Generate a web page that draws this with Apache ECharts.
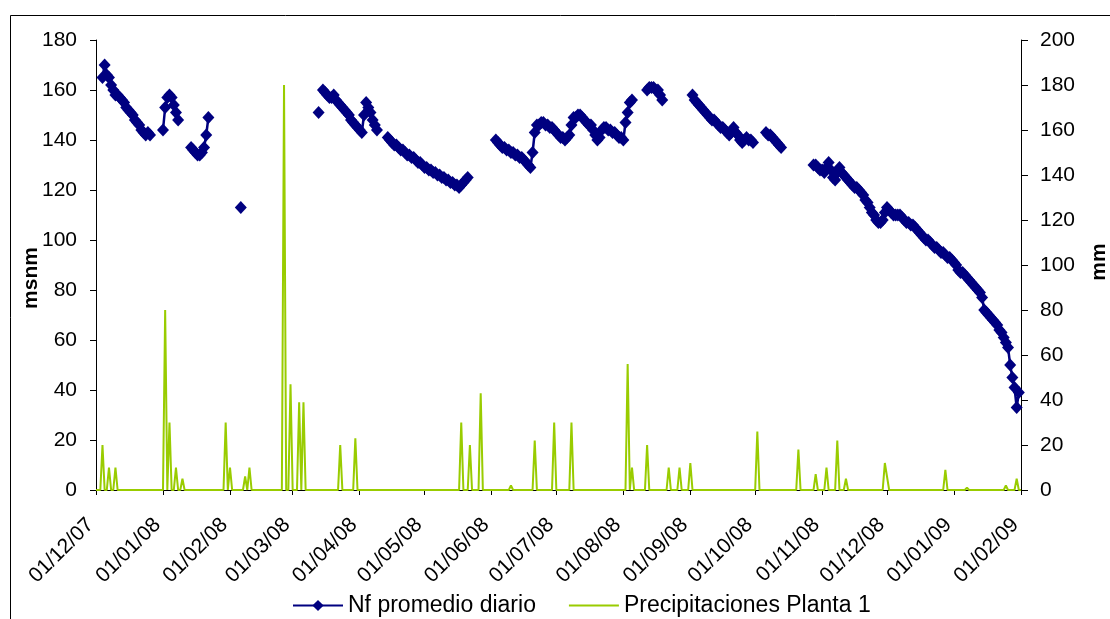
<!DOCTYPE html>
<html>
<head>
<meta charset="utf-8">
<script src="https://cdn.jsdelivr.net/npm/echarts@6/dist/echarts.min.js"></script>
<style>
  html, body { margin: 0; padding: 0; background: #ffffff; }
  #chart { width: 1110px; height: 619px; }
</style>
</head>
<body>
<div id="chart"></div>
<script>
// Month ticks along the date axis
const monthTicks = ['01/12/07', '01/01/08', '01/02/08', '01/03/08', '01/04/08', '01/05/08',
  '01/06/08', '01/07/08', '01/08/08', '01/09/08', '01/10/08', '01/11/08', '01/12/08',
  '01/01/09', '01/02/09'];

const leftTicks = [0, 20, 40, 60, 80, 100, 120, 140, 160, 180];
const rightTicks = [0, 20, 40, 60, 80, 100, 120, 140, 160, 180, 200];

// Nf promedio diario (msnm): daily readings, one array per uninterrupted run
const nfStarts = ['04/12/07', '01/01/08', '14/01/08', '06/02/08', '13/03/08', '15/03/08',
  '14/04/08', '03/06/08', '12/08/08', '02/09/08', '06/10/08', '28/10/08'];

const nfDic07 = [165, 170, 166, 165, 162, 160, 158, 158, 157, 156, 155, 153, 152, 151, 150,
  148, 147, 146, 144, 143, 142, 143, 142];
const nfEne08a = [144, 153, 157, 158, 157, 154, 151, 148];
const nfEne08b = [137, 136, 135, 134, 134, 135, 137, 142, 149];
const nfFeb08 = [113];
const nfMar08a = [151];
const nfMar08b = [160, 159, 158, 157, 157, 158, 156, 155, 154, 153, 152, 151, 150, 148, 147,
  146, 145, 144, 143, 150, 155, 153, 151, 148, 146, 144];
const nfAbr08 = [141, 140, 139, 138, 138, 137, 136, 136, 135, 134,
  134, 133, 133, 132, 131, 131, 130, 129, 129, 128,
  128, 127, 127, 126, 126, 125, 125, 124, 124, 123,
  123, 122, 122, 121, 122, 123, 124, 125];
const nfJun08 = [140, 139, 138, 137, 137, 136, 136, 135, 135, 134,
  134, 133, 133, 132, 131, 130, 129,
  135, 143, 146, 146, 147, 147, 146, 146, 145, 145, 144,
  143, 142, 141, 141, 140, 141, 142, 146, 149, 149, 150, 150, 149, 148, 147, 146, 146,
  144, 142, 140, 141, 144, 145, 145, 144, 144, 143, 143, 142, 141, 141, 140,
  147, 151, 155, 156];
const nfAgo08 = [160, 161, 161, 161, 160, 160, 158, 156];
const nfSep08 = [158, 156, 155, 154, 153, 152, 151, 150, 149, 148, 148, 147, 146, 145, 145,
  144, 143, 142, 143, 145, 143, 142, 140, 139, 140, 141, 140, 140, 139];
const nfOct08 = [143, 142, 142, 141, 140, 139, 138, 137];
const nfNov08 = [130, 130, 129, 128, 128, 127, 129, 131, 128, 125,
  124, 127, 129, 127, 126, 125, 124, 123, 122, 121,
  121, 120, 119, 118, 116, 115, 113, 111, 110, 108,
  107, 107, 108, 111, 113, 112, 111, 110, 110, 110,
  110, 109, 108, 107, 107, 106, 106, 105, 104, 103,
  102, 101, 100, 100, 99, 98, 97, 97, 96, 95,
  95, 94, 93, 93, 92, 91, 90, 88, 87, 87,
  86, 85, 84, 83, 82, 81, 80, 79, 77, 72,
  71, 70, 69, 68, 67, 66, 64, 63, 61, 59,
  57, 50, 45, 41, 33, 39];

const nfRuns = [nfDic07, nfEne08a, nfEne08b, nfFeb08, nfMar08a, nfMar08b,
  nfAbr08, nfJun08, nfAgo08, nfSep08, nfOct08, nfNov08];

// Precipitaciones Planta 1 (mm): rainy days only, every other day is 0
const rainDates = ['04/12/07', '07/12/07', '10/12/07', '02/01/08', '04/01/08', '07/01/08',
  '10/01/08', '30/01/08', '01/02/08', '08/02/08', '10/02/08', '26/02/08', '29/02/08',
  '04/03/08', '06/03/08', '23/03/08', '30/03/08', '18/05/08', '22/05/08', '27/05/08',
  '10/06/08', '21/06/08', '30/06/08', '08/07/08', '03/08/08', '05/08/08', '12/08/08',
  '22/08/08', '27/08/08', '01/09/08', '02/10/08', '21/10/08', '29/10/08', '03/11/08',
  '08/11/08', '12/11/08', '30/11/08', '01/12/08', '28/12/08', '07/01/09', '25/01/09',
  '30/01/09'];
const rainMm = [20, 10, 10, 80, 30, 10,
  5, 30, 10, 6, 10, 180, 47,
  39, 39, 20, 23, 30, 20, 43,
  2, 22, 30, 30, 56, 10, 20,
  10, 10, 12, 26, 18, 7, 10,
  22, 5, 12, 6, 9, 1, 2,
  5];

const firstDay = '01/12/07';
const lastDay = '01/02/09';

function dmy(s) {
  const p = s.split('/').map(Number);
  return new Date(2000 + p[2], p[1] - 1, p[0]);
}
function dayKey(d) {
  return d.getFullYear() * 10000 + (d.getMonth() + 1) * 100 + d.getDate();
}
function pad(n) { return (n < 10 ? '0' : '') + n; }

// Build the daily tables
const nfByDay = {};
nfRuns.forEach(function (run, k) {
  const s = dmy(nfStarts[k]);
  run.forEach(function (v, i) {
    const d = new Date(s.getFullYear(), s.getMonth(), s.getDate() + i);
    nfByDay[dayKey(d)] = v;
  });
});
const rainByDay = {};
rainDates.forEach(function (s, i) { rainByDay[dayKey(dmy(s))] = rainMm[i]; });

const start = dmy(firstDay);
const end = dmy(lastDay);
const nfData = [];
const rainData = [];
for (let i = 0; ; i++) {
  const d = new Date(start.getFullYear(), start.getMonth(), start.getDate() + i);
  if (d.getTime() > end.getTime()) break;
  const key = dayKey(d);
  nfData.push([d.getTime(), key in nfByDay ? nfByDay[key] : '-']);
  rainData.push([d.getTime(), key in rainByDay ? rainByDay[key] : 0]);
}

const tickTimes = monthTicks.map(function (s) { return dmy(s).getTime(); });

const FONT = 'Liberation Sans, Arial, sans-serif';

const chart = echarts.init(document.getElementById('chart'), null, { renderer: 'canvas' });
chart.setOption({
  animation: false,
  backgroundColor: '#ffffff',
  grid: { left: 96, right: 89, top: 40, bottom: 129, containLabel: false },
  xAxis: {
    type: 'value',
    min: start.getTime(),
    max: end.getTime(),
    splitLine: { show: false },
    axisLine: { show: true, onZero: false, lineStyle: { color: '#000000', width: 1 } },
    axisTick: { show: true, customValues: tickTimes, length: 5, lineStyle: { color: '#000000' } },
    axisLabel: {
      customValues: tickTimes,
      rotate: 45,
      margin: 26,
      padding: [0, 8, 0, 0],
      color: '#000000',
      fontFamily: FONT,
      fontSize: 21,
      formatter: function (v) {
        const d = new Date(v);
        return pad(d.getDate()) + '/' + pad(d.getMonth() + 1) + '/' + pad(d.getFullYear() % 100);
      }
    }
  },
  yAxis: [
    {
      type: 'value', min: leftTicks[0], max: leftTicks[leftTicks.length - 1], interval: 20,
      splitLine: { show: false },
      axisLine: { show: true, lineStyle: { color: '#000000', width: 1 } },
      axisTick: { show: true, length: 6, lineStyle: { color: '#000000' } },
      axisLabel: { margin: 19, color: '#000000', fontFamily: FONT, fontSize: 21 }
    },
    {
      type: 'value', min: rightTicks[0], max: rightTicks[rightTicks.length - 1], interval: 20,
      position: 'right',
      splitLine: { show: false },
      axisLine: { show: true, lineStyle: { color: '#000000', width: 1 } },
      axisTick: { show: true, length: 7, lineStyle: { color: '#000000' } },
      axisLabel: { margin: 19, color: '#000000', fontFamily: FONT, fontSize: 21 }
    }
  ],
  legend: {
    left: 287,
    top: 589,
    itemWidth: 50,
    itemHeight: 14,
    itemGap: 32,
    textStyle: { color: '#000000', fontFamily: FONT, fontSize: 23 },
    data: [
      { name: 'Nf promedio diario' },
      { name: 'Precipitaciones Planta 1', itemStyle: { opacity: 0 } }
    ]
  },
  graphic: [
    {
      type: 'rect', left: 8, top: 13, silent: true,
      shape: { width: 1110, height: 640 },
      style: { fill: 'none', stroke: '#000000', lineWidth: 1 }
    },
    {
      type: 'text', x: 31, y: 278, rotation: Math.PI / 2, silent: true,
      style: { text: 'msnm', fontFamily: FONT, fontSize: 21, fontWeight: 'bold',
        fill: '#000000', align: 'center', verticalAlign: 'middle' }
    },
    {
      type: 'text', x: 1099, y: 262, rotation: Math.PI / 2, silent: true,
      style: { text: 'mm', fontFamily: FONT, fontSize: 21, fontWeight: 'bold',
        fill: '#000000', align: 'center', verticalAlign: 'middle' }
    }
  ],
  series: [
    {
      name: 'Precipitaciones Planta 1',
      type: 'line',
      yAxisIndex: 1,
      data: rainData,
      symbol: 'none',
      color: '#99CC00',
      lineStyle: { color: '#99CC00', width: 2 },
      z: 2
    },
    {
      name: 'Nf promedio diario',
      type: 'line',
      yAxisIndex: 0,
      data: nfData,
      connectNulls: false,
      symbol: 'diamond',
      symbolSize: [12, 13],
      showSymbol: true,
      showAllSymbol: true,
      color: '#000080',
      itemStyle: { color: '#000080' },
      lineStyle: { color: '#000080', width: 2.5 },
      z: 3
    }
  ]
});
</script>
</body>
</html>
